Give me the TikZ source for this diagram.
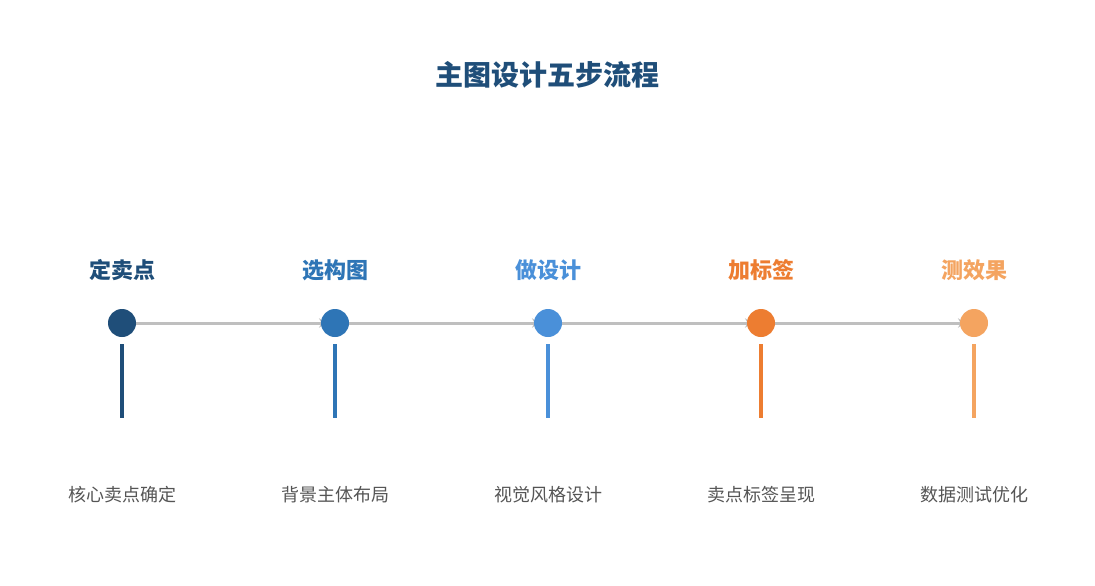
\documentclass[tikz,border=0pt]{standalone}
\usepackage{fontspec}
\setmainfont{Liberation Sans}
\newfontfamily\cjk{Noto Sans CJK SC}
\usetikzlibrary{arrows.meta}
\definecolor{cA}{HTML}{1F4E79}
\definecolor{cB}{HTML}{2E75B6}
\definecolor{cC}{HTML}{4A90D9}
\definecolor{cD}{HTML}{ED7D31}
\definecolor{cE}{HTML}{F4A460}
\definecolor{txt}{HTML}{555555}
\definecolor{arr}{HTML}{BFBFBF}
\begin{document}
\begin{tikzpicture}[x=0.75pt,y=-0.75pt,
  dot/.style={circle,inner sep=0pt,minimum size=28*0.75pt},
  lab/.style={font=\cjk\bfseries\fontsize{16.5}{18}\selectfont},
  desc/.style={font=\cjk\fontsize{13.5}{15}\selectfont,text=txt},
  conn/.style={draw=arr,line width=2.25pt,-{Stealth[length=6pt,width=7pt]}},
  stem/.style={line width=3pt}]
\useasboundingbox[fill=white] (0,0) rectangle (1095,585);
\node[font=\cjk\bfseries\fontsize{21}{24}\selectfont,text=cA] (title) at (547,75) {主图设计五步流程};
\foreach \i/\x/\c/\l/\d in {1/122/cA/定卖点/核心卖点确定,2/335/cB/选构图/背景主体布局,3/548/cC/做设计/视觉风格设计,4/761/cD/加标签/卖点标签呈现,5/974/cE/测效果/数据测试优化}{
  \coordinate (p\i) at (\x,323);
  \node[lab,text=\c] (l\i) at (\x,270) {\l};
  \coordinate (s\i) at (\x,344);
  \coordinate (e\i) at (\x,418);
  \draw[stem,draw=\c] (s\i) -- (e\i);
  \node[desc] (d\i) at (\x,495) {\d};
}
\foreach \a/\b in {1/2,2/3,3/4,4/5}{
  \draw[conn] (p\a) -- ([xshift=-6]p\b);
}
\foreach \i/\c in {1/cA,2/cB,3/cC,4/cD,5/cE}{
  \node[dot,fill=\c] (n\i) at (p\i) {};
}
\end{tikzpicture}
\end{document}
